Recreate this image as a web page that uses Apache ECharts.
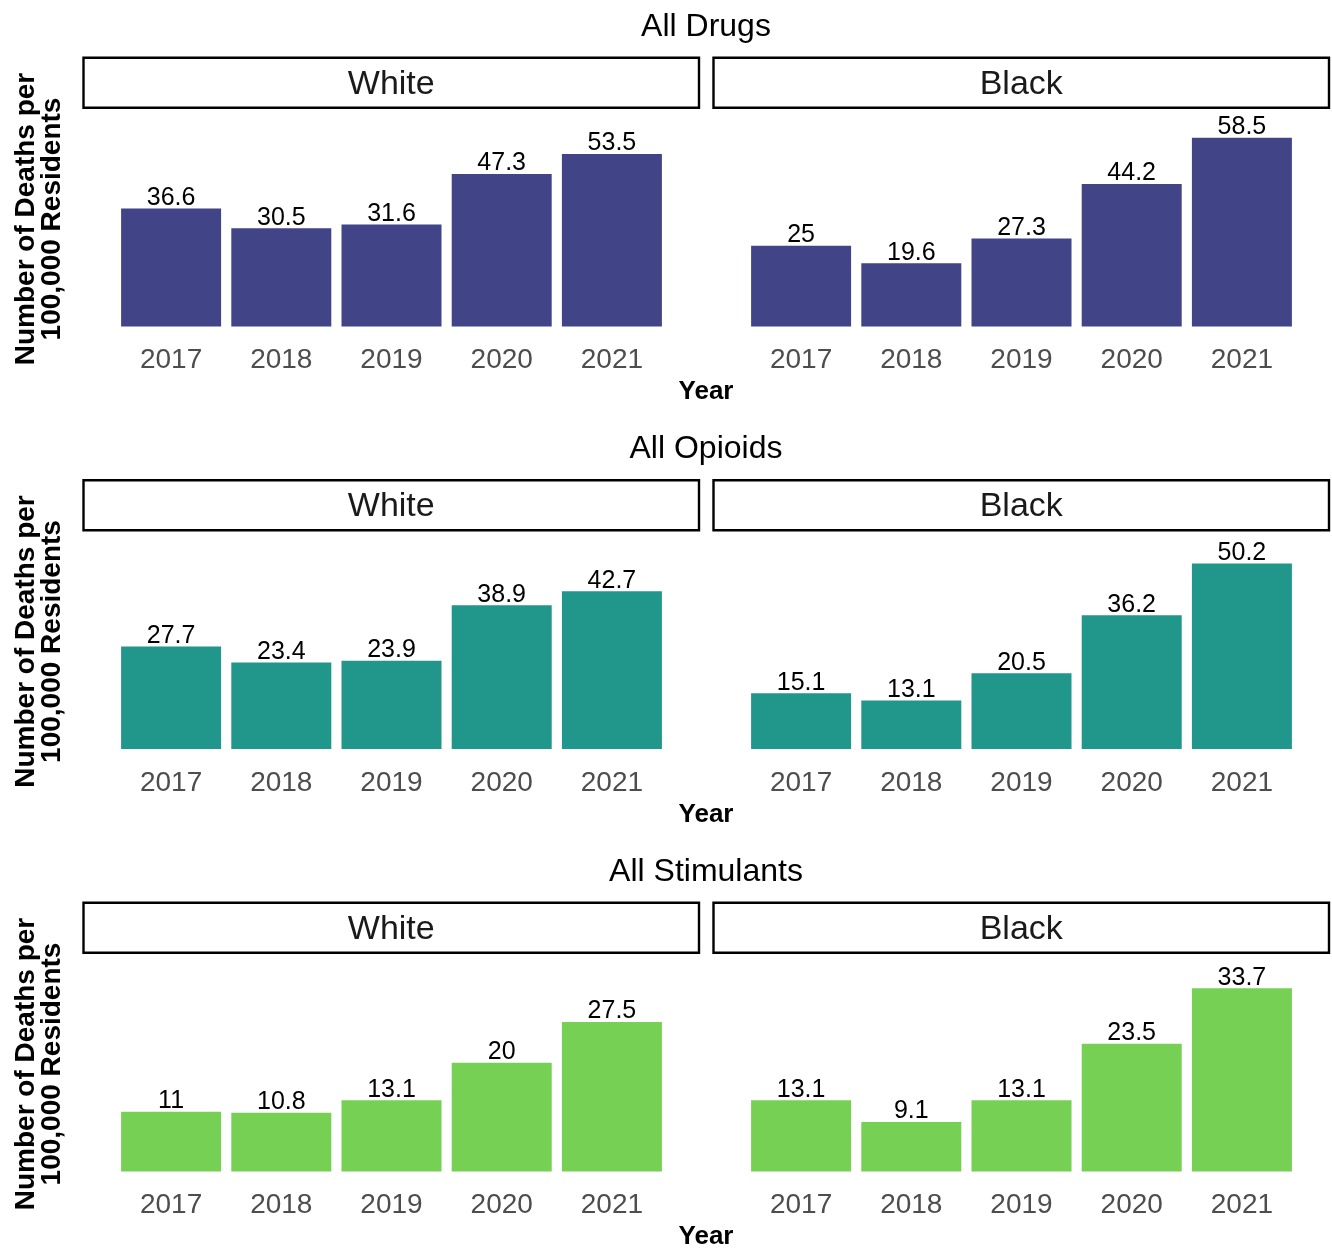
<!DOCTYPE html>
<html>
<head>
<meta charset="utf-8">
<script src="https://cdn.jsdelivr.net/npm/echarts@6/dist/echarts.min.js"></script>
<style>
html,body{margin:0;padding:0;background:#fff;}
#chart{width:1332px;height:1249px;}
</style>
</head>
<body>
<div id="chart"></div>
<script>
// ---- data ----
var years = ['2017', '2018', '2019', '2020', '2021'];
var rowTitles = ['All Drugs', 'All Opioids', 'All Stimulants'];
var facetNames = ['White', 'Black'];
var drugsWhite = [36.6, 30.5, 31.6, 47.3, 53.5];
var drugsBlack = [25, 19.6, 27.3, 44.2, 58.5];
var opioidsWhite = [27.7, 23.4, 23.9, 38.9, 42.7];
var opioidsBlack = [15.1, 13.1, 20.5, 36.2, 50.2];
var stimWhite = [11, 10.8, 13.1, 20, 27.5];
var stimBlack = [13.1, 9.1, 13.1, 23.5, 33.7];
var xTitle = 'Year';
var yTitle = 'Number of Deaths per\n100,000 Residents';

// ---- layout ----
var FONT = '"Liberation Sans", Arial, Helvetica, sans-serif';
var rowData = [[drugsWhite, drugsBlack], [opioidsWhite, opioidsBlack], [stimWhite, stimBlack]];
var rowColors = ['#414487', '#21968B', '#75D054'];
var rowMax = [67.75, 59.1, 40.2];
var DY = 422.5;
var stripX = [83.5, 713.5];
var stripW = 615.5;
var gridLeft = [116, 746];
var gridW = 551;

var grids = [], xAxes = [], yAxes = [], series = [], graphics = [];
for (var r = 0; r < 3; r++) {
  var oy = r * DY;
  graphics.push({
    type: 'text', z: 10,
    style: { text: rowTitles[r], font: '32px ' + FONT, fill: '#000', x: 706, y: 27 + oy, align: 'center', verticalAlign: 'middle' }
  });
  graphics.push({
    type: 'text', z: 10, rotation: Math.PI / 2, x: 39, y: 219 + oy,
    style: { text: yTitle, font: 'bold 28px ' + FONT, fill: '#000', align: 'center', verticalAlign: 'middle', lineHeight: 26 }
  });
  graphics.push({
    type: 'text', z: 10,
    style: { text: xTitle, font: 'bold 26px ' + FONT, fill: '#000', x: 706, y: 392 + oy, align: 'center', verticalAlign: 'middle' }
  });
  for (var c = 0; c < 2; c++) {
    var idx = r * 2 + c;
    graphics.push({
      type: 'rect', z: 5,
      shape: { x: stripX[c], y: 57.8 + oy, width: stripW, height: 50 },
      style: { fill: '#fff', stroke: '#000', lineWidth: 2.4 }
    });
    graphics.push({
      type: 'text', z: 10,
      style: { text: facetNames[c], font: '34px ' + FONT, fill: '#1a1a1a', x: stripX[c] + stripW / 2, y: 84.5 + oy, align: 'center', verticalAlign: 'middle' }
    });
    grids.push({ left: gridLeft[c], width: gridW, top: 108 + oy, height: 218.5, containLabel: false });
    xAxes.push({
      type: 'category', gridIndex: idx, data: years,
      axisLine: { show: false }, axisTick: { show: false }, splitLine: { show: false },
      axisLabel: { color: '#4d4d4d', fontSize: 28, fontFamily: FONT, margin: 20 }
    });
    yAxes.push({
      type: 'value', gridIndex: idx, min: 0, max: rowMax[r], show: false, splitLine: { show: false }
    });
    series.push({
      type: 'bar', xAxisIndex: idx, yAxisIndex: idx, data: rowData[r][c],
      barWidth: 100, itemStyle: { color: rowColors[r] },
      label: { show: true, position: 'top', distance: -2, color: '#000', fontSize: 25, fontFamily: FONT },
      silent: true, animation: false
    });
  }
}

var chart = echarts.init(document.getElementById('chart'), null, { renderer: 'canvas' });
chart.setOption({
  backgroundColor: '#fff',
  animation: false,
  grid: grids,
  xAxis: xAxes,
  yAxis: yAxes,
  series: series,
  graphic: graphics
});
</script>
</body>
</html>
